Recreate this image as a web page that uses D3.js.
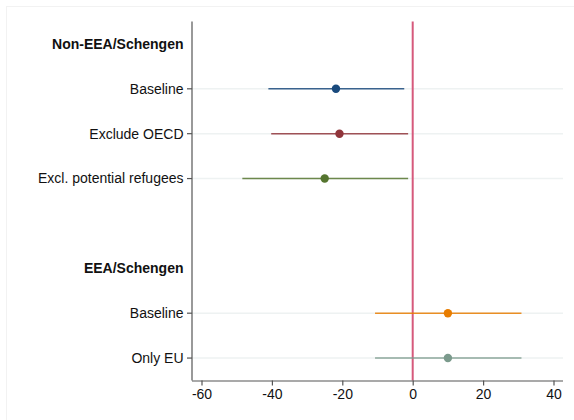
<!DOCTYPE html>
<html><head><meta charset="utf-8">
<script src="https://cdn.jsdelivr.net/npm/d3@7"></script>
<style>body{margin:0;background:#fff}svg{display:block}</style>
</head><body>
<svg id="c" width="574" height="420"></svg>
<script>
const rowLabels = ["Non-EEA/Schengen","Baseline","Exclude OECD","Excl. potential refugees","","EEA/Schengen","Baseline","Only EU"];
const isHeader = [true,false,false,false,false,true,false,false];
const estimates = [null,-21.8,-20.8,-25.0,null,null,10.0,10.0];
const ciLow = [null,-41.0,-40.2,-48.4,null,null,-10.7,-10.7];
const ciHigh = [null,-2.4,-1.3,-1.3,null,null,30.9,30.9];
const colors = [null,"#1a4a7d","#90353b","#55752f",null,null,"#e87d00","#7b9a8c"];
const xTicks = [-60,-40,-20,0,20,40];

const svg = d3.select("#c");
svg.append("rect").attr("x",6.5).attr("y",6.5).attr("width",580).attr("height",420).attr("fill","none").attr("stroke","#f2f2f2");

const x = d3.scaleLinear().domain([-62.7,42.7]).range([192,563]);
const y = d3.scaleLinear().domain([0.5,8.5]).range([21.5,380.5]);

const rows = rowLabels.map((l,i)=>({l,i,h:isHeader[i],e:estimates[i],lo:ciLow[i],hi:ciHigh[i],c:colors[i]}));
const dataRows = rows.filter(r=>r.e!==null);

// gridlines
svg.append("g").selectAll("line").data(dataRows).join("line")
  .attr("x1",x(-62.7)).attr("x2",x(42.7))
  .attr("y1",d=>y(d.i+1)).attr("y2",d=>y(d.i+1))
  .attr("stroke","#eef2f2").attr("stroke-width",1.5);

// zero line
svg.append("line").attr("x1",x(0)).attr("x2",x(0)).attr("y1",y(0.5)).attr("y2",y(8.5))
  .attr("stroke","#d6597c").attr("stroke-width",2);

// CI
svg.append("g").selectAll("line").data(dataRows).join("line")
  .attr("x1",d=>x(d.lo)).attr("x2",d=>x(d.hi))
  .attr("y1",d=>y(d.i+1)).attr("y2",d=>y(d.i+1))
  .attr("stroke",d=>d.c).attr("stroke-opacity",0.85).attr("stroke-width",1.6);
svg.append("g").selectAll("circle").data(dataRows).join("circle")
  .attr("cx",d=>x(d.e)).attr("cy",d=>y(d.i+1)).attr("r",4.2).attr("fill",d=>d.c);

// y axis
const ya = svg.append("g");
ya.append("line").attr("x1",192).attr("x2",192).attr("y1",y(0.5)).attr("y2",y(8.5)).attr("stroke","#555").attr("stroke-width",1.2);
ya.selectAll("line.t").data(dataRows).join("line").attr("class","t")
  .attr("x1",187).attr("x2",192).attr("y1",d=>y(d.i+1)).attr("y2",d=>y(d.i+1)).attr("stroke","#555").attr("stroke-width",1.2);
ya.selectAll("text").data(rows.filter(r=>r.l)).join("text")
  .attr("x",183.5).attr("y",d=>y(d.i+1)).attr("dy","0.35em").attr("text-anchor","end")
  .attr("font-family","Liberation Sans, Arial, sans-serif").attr("font-size",14)
  .attr("font-weight",d=>d.h?"bold":"normal").attr("fill","#111").text(d=>d.l);

// x axis
const xa = svg.append("g").attr("transform",`translate(0,${y(8.5)})`)
  .call(d3.axisBottom(x).tickValues(xTicks).tickSize(5).tickPadding(4).tickFormat(d3.format("d")));
xa.select(".domain").attr("stroke","#555").attr("stroke-width",1.2).attr("d",`M192,0.5H563`);
xa.selectAll(".tick line").attr("stroke","#555").attr("stroke-width",1.2);
xa.selectAll(".tick text").attr("font-family","Liberation Sans, Arial, sans-serif").attr("font-size",14).attr("fill","#111")
  .text(d=>d<0?"-"+Math.abs(d):d);
</script>
</body></html>
